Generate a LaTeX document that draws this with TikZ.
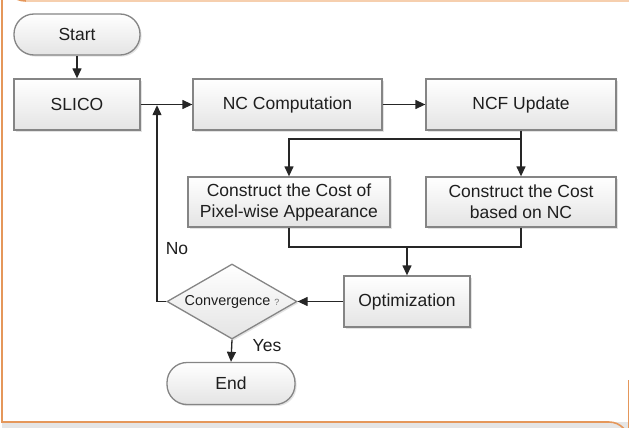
\documentclass[tikz,border=0pt]{standalone}
\usepackage{fontspec}
\setmainfont{Liberation Sans}
\usetikzlibrary{arrows.meta,shapes.geometric,shadows}
\definecolor{boxgray}{HTML}{858585}
\definecolor{fillgray}{HTML}{E4E4E4}
\definecolor{txt}{HTML}{1E1E1E}
\definecolor{lnc}{HTML}{262626}
\definecolor{orng}{HTML}{E5975A}
\definecolor{peach}{HTML}{F6CFAE}
\tikzset{
  base/.style={draw=boxgray, line width=1.3pt, top color=white, bottom color=fillgray,
    drop shadow={shadow xshift=1.6pt, shadow yshift=-1.6pt, fill=black!22},
    text=txt, inner sep=0pt, font=\fontsize{17.5}{21}\selectfont, align=center},
  procbox/.style={base, rectangle, minimum height=51pt},
  termbox/.style={base, rectangle, rounded corners=20pt, minimum height=41pt},
  decbox/.style={base, diamond, aspect=1.73, minimum width=130pt, minimum height=75pt},
  arr/.style={draw=lnc, line width=1.3pt, -{Triangle[length=10pt,width=9pt]}},
  ln/.style={draw=lnc, line width=1.3pt},
  lbl/.style={text=txt, font=\fontsize{17.5}{21}\selectfont, inner sep=0pt}
}
\begin{document}
\begin{tikzpicture}[x=1pt,y=-1pt]
\useasboundingbox (0,0) rectangle (629,428);
% frame
\fill[black!10] (2,422) rectangle (640,428);
\draw[orng, line width=1.6pt] (640,1) -- (26,1) arc[start angle=90,end angle=180,radius=24] -- (2,422) -- (609,422) arc[start angle=270,end angle=360,radius=20] -- (629,380);
\draw[peach, line width=1.6pt] (640,1) -- (26,1);
% nodes
\node[termbox, minimum width=126pt] (start) at (77,34.5) {Start};
\node[procbox, minimum width=126pt] (slico) at (77,104.5) {SLICO};
\node[procbox, minimum width=189pt] (nc) at (287.5,104.5) {NC Computation};
\node[procbox, minimum width=190pt] (ncf) at (521,104.5) {NCF Update};
\node[procbox, minimum width=202pt, minimum height=50pt] (c1) at (289,202) {Construct the Cost of\\Pixel-wise Appearance};
\node[procbox, minimum width=190pt, minimum height=50pt] (c2) at (521,202) {Construct the Cost\\based on NC};
\node[procbox, minimum width=126pt] (opt) at (407,301.5) {Optimization};
\node[decbox] (conv) at (232,301.5) {\fontsize{14.4}{16}\selectfont Convergence {\fontsize{9}{10}\selectfont\color{black!55}?}};
\node[termbox, minimum width=128pt, minimum height=42pt] (end) at (231,383.5) {End};
% labels
\node[lbl] (no) at (177,249) {No};
\node[lbl] (yes) at (267,346) {Yes};
% coordinates
\coordinate (split) at (521,139);
\coordinate (merge) at (407,247);
\coordinate (join) at (157,105.2);
% connectors
\draw[arr] (start) -- (slico);
\draw[arr] (slico) -- (nc);
\draw[arr] (nc) -- (ncf);
\draw[ln] (ncf.south) -- (split);
\draw[arr] (split) -- (c2.north);
\draw[arr] (split) -| (c1.north);
\draw[ln] (c1.south) |- (merge);
\draw[ln] (c2.south) |- (merge);
\draw[arr] (merge) -- (opt.north);
\draw[arr] (opt.west) -- (conv.east);
\draw[arr] (conv.west) -| (join);
\draw[arr] (conv.south) -- (end.north);
\end{tikzpicture}
\end{document}
